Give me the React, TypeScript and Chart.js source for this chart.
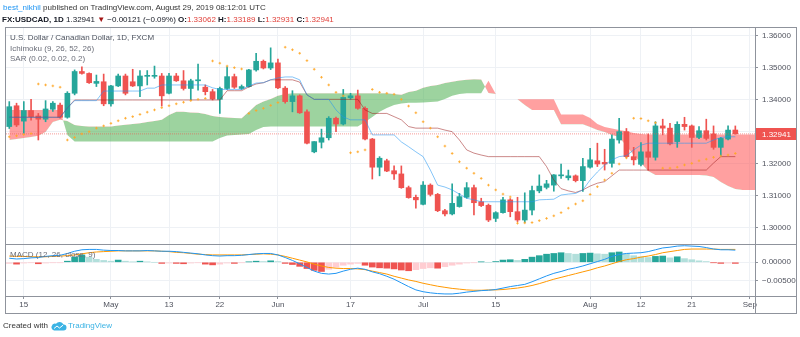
import React, { useEffect, useRef } from "react";
import { Chart, registerables } from "chart.js";

Chart.register(...registerables);

// ---------- Data (daily bars, index 0 = 2019-04-11 ... 100 = 2019-08-29) ----------
const opens = [
  1.3317, 1.3382, 1.3334, 1.3367, 1.335, 1.334, 1.3371, 1.3384, 1.3346, 1.3421,
  1.3489, 1.3483, 1.3452, 1.3457, 1.3388, 1.3444, 1.3475, 1.3457, 1.3444, 1.3474,
  1.3474, 1.3475, 1.3421, 1.3475, 1.346, 1.3436, 1.346, 1.344, 1.3426, 1.3402,
  1.3436, 1.3473, 1.3436, 1.3442, 1.3494, 1.3521, 1.35, 1.3516, 1.3437, 1.3395,
  1.3413, 1.3363, 1.3238, 1.3268, 1.3282, 1.3343, 1.3325, 1.3407, 1.3413, 1.3374,
  1.3278, 1.319, 1.321, 1.3179, 1.3169, 1.3126, 1.3096, 1.3074, 1.3134, 1.3105,
  1.3054, 1.3044, 1.3067, 1.3096, 1.3126, 1.3082, 1.3071, 1.303, 1.3048, 1.3088,
  1.3051, 1.3025, 1.3056, 1.3116, 1.3127, 1.3134, 1.3163, 1.3157, 1.3163, 1.3148,
  1.319, 1.321, 1.3205, 1.3202, 1.3275, 1.3301, 1.3223, 1.3199, 1.3238, 1.3221,
  1.3319, 1.3312, 1.327, 1.3324, 1.3319, 1.3283, 1.3304, 1.3294, 1.3252, 1.3278,
  1.33062,
];
const highs = [
  1.3395, 1.339, 1.3395, 1.3402, 1.3358, 1.3398, 1.3395, 1.339, 1.3426, 1.3494,
  1.3504, 1.3485, 1.3478, 1.3481, 1.3446, 1.3481, 1.3481, 1.3496, 1.3492, 1.3492,
  1.3506, 1.3483, 1.3483, 1.3483, 1.3492, 1.3465, 1.3512, 1.3447, 1.3433, 1.344,
  1.3504, 1.3481, 1.3447, 1.3496, 1.3546, 1.3525, 1.3563, 1.3528, 1.3442, 1.3429,
  1.3416, 1.3369, 1.327, 1.3309, 1.3348, 1.3347, 1.3433, 1.3421, 1.3431, 1.3379,
  1.328, 1.3223, 1.3215, 1.3194, 1.3194, 1.3131, 1.3103, 1.3145, 1.3138, 1.3108,
  1.3058, 1.3138, 1.3108, 1.3142, 1.3134, 1.3093, 1.3075, 1.3051, 1.3096, 1.3092,
  1.3096, 1.311, 1.3131, 1.3166, 1.3149, 1.3167, 1.32, 1.3181, 1.3166, 1.3218,
  1.3249, 1.3265, 1.3246, 1.3291, 1.3343, 1.3311, 1.3252, 1.3267, 1.3294, 1.3332,
  1.334, 1.3327, 1.3332, 1.3346, 1.3322, 1.3317, 1.334, 1.3319, 1.3283, 1.3319,
  1.33189,
];
const lows = [
  1.3311, 1.3317, 1.3296, 1.3337, 1.3275, 1.3332, 1.3364, 1.3343, 1.3343, 1.3416,
  1.3481, 1.3452, 1.3442, 1.3382, 1.3381, 1.3442, 1.3416, 1.3442, 1.341, 1.3447,
  1.3468, 1.3381, 1.3419, 1.3458, 1.3431, 1.34, 1.3431, 1.3416, 1.34, 1.3358,
  1.3433, 1.3436, 1.3433, 1.344, 1.349, 1.3497, 1.3495, 1.3435, 1.339, 1.3363,
  1.3358, 1.3263, 1.3235, 1.325, 1.3275, 1.3301, 1.3322, 1.3402, 1.3371, 1.3275,
  1.3153, 1.3163, 1.3176, 1.3152, 1.3124, 1.3093, 1.3062, 1.3072, 1.31, 1.3051,
  1.3038, 1.3041, 1.3065, 1.3093, 1.3041, 1.3067, 1.302, 1.302, 1.3046, 1.3035,
  1.302, 1.3017, 1.3041, 1.311, 1.3122, 1.3115, 1.3155, 1.315, 1.3144, 1.3114,
  1.3187, 1.3192, 1.3181, 1.319, 1.3265, 1.322, 1.3197, 1.3194, 1.3181, 1.3212,
  1.3291, 1.326, 1.3252, 1.3306, 1.3252, 1.3279, 1.3275, 1.3246, 1.3225, 1.3275,
  1.32931,
];
const closes = [
  1.3379, 1.3322, 1.3367, 1.3348, 1.334, 1.3372, 1.339, 1.3346, 1.3421, 1.3489,
  1.3483, 1.3454, 1.3458, 1.3388, 1.3444, 1.3475, 1.3421, 1.3444, 1.3475, 1.3476,
  1.3476, 1.3413, 1.3475, 1.346, 1.3436, 1.346, 1.3461, 1.3426, 1.3403, 1.3436,
  1.3473, 1.344, 1.3442, 1.3494, 1.3521, 1.35, 1.3516, 1.3438, 1.3395, 1.3413,
  1.336, 1.3265, 1.327, 1.3282, 1.3343, 1.3325, 1.3408, 1.3413, 1.3374, 1.3278,
  1.319, 1.3218, 1.3178, 1.3169, 1.3126, 1.3095, 1.3088, 1.3134, 1.3105, 1.3054,
  1.3044, 1.3077, 1.3098, 1.3126, 1.3079, 1.307, 1.3025, 1.3048, 1.3088, 1.3051,
  1.3025, 1.3056, 1.3117, 1.3131, 1.3138, 1.3166, 1.3166, 1.3163, 1.3148, 1.3192,
  1.3213, 1.32, 1.32, 1.3278, 1.3301, 1.3223, 1.3213, 1.3238, 1.3221, 1.3319,
  1.3312, 1.3263, 1.3324, 1.3317, 1.3283, 1.3304, 1.328, 1.3252, 1.328, 1.3306,
  1.32941,
];

// Ichimoku leading spans (shifted ahead, index 0..103)
const leadA = [
  1.3275, 1.3278, 1.3281, 1.3284, 1.3288, 1.33, 1.3331, 1.3338, 1.3334, 1.3322,
  1.3319, 1.3317, 1.3317, 1.3317, 1.3317, 1.332, 1.3323, 1.3325, 1.3327, 1.3331,
  1.3334, 1.3338, 1.3353, 1.3363, 1.3363, 1.3361, 1.336, 1.3356, 1.335, 1.3347,
  1.3345, 1.3344, 1.3343, 1.3363, 1.3384, 1.3395, 1.3403, 1.3413, 1.3419, 1.3421,
  1.3421, 1.3421, 1.3421, 1.3421, 1.3421, 1.3421, 1.3421, 1.3421, 1.3421, 1.3421,
  1.3421, 1.3421, 1.3421, 1.3419, 1.3416, 1.3425, 1.3429, 1.3438, 1.3444, 1.3447,
  1.3453, 1.3457, 1.3461, 1.3463, 1.3465, 1.3464, 1.3422, 1.3419, 1.3413, 1.3406,
  1.3402, 1.3384, 1.3369, 1.3369, 1.3369, 1.3369, 1.3324, 1.3324, 1.3324, 1.3324,
  1.3316, 1.3306, 1.33, 1.3291, 1.3284, 1.3256, 1.3228, 1.3203, 1.3178, 1.3166,
  1.3166, 1.3166, 1.3166, 1.3166, 1.3166, 1.3166, 1.3164, 1.3159, 1.3144, 1.3131,
  1.3122, 1.3119, 1.3119, 1.3119,
];
const leadB = [
  1.3369, 1.3369, 1.3369, 1.3369, 1.3369, 1.3369, 1.3369, 1.3369, 1.3291, 1.327,
  1.327, 1.327, 1.327, 1.327, 1.327, 1.327, 1.327, 1.327, 1.327, 1.327,
  1.327, 1.327, 1.327, 1.327, 1.327, 1.327, 1.327, 1.327, 1.327, 1.3281,
  1.3289, 1.3291, 1.3292, 1.3294, 1.3306, 1.3316, 1.3317, 1.3317, 1.3317, 1.3317,
  1.3317, 1.3317, 1.3317, 1.3317, 1.3317, 1.3317, 1.3317, 1.3317, 1.3317, 1.3331,
  1.3347, 1.3363, 1.3375, 1.3384, 1.3389, 1.3391, 1.3391, 1.3392, 1.3394, 1.3395,
  1.3403, 1.3413, 1.3419, 1.3421, 1.3421, 1.3421, 1.346, 1.3419, 1.3413, 1.3406,
  1.3402, 1.3402, 1.3402, 1.3402, 1.3402, 1.3402, 1.3355, 1.3355, 1.3355, 1.3355,
  1.3344, 1.3325, 1.3316, 1.3311, 1.3306, 1.3302, 1.3297, 1.3294, 1.3292, 1.3292,
  1.3292, 1.3292, 1.3292, 1.3292, 1.3292, 1.3292, 1.3292, 1.3292, 1.3292, 1.3292,
  1.3292, 1.3292, 1.3292, 1.3292,
];
const conversion = [
  1.3346, 1.3346, 1.3346, 1.3346, 1.3346, 1.3346, 1.3346, 1.3346, 1.3375, 1.3398,
  1.3398, 1.3398, 1.3398, 1.3428, 1.3428, 1.3428, 1.3428, 1.3428, 1.3428, 1.3437,
  1.3437, 1.3447, 1.3447, 1.3447, 1.3447, 1.3447, 1.3447, 1.3447, 1.3438, 1.3433,
  1.3433, 1.3433, 1.3433, 1.3444, 1.3453, 1.3454, 1.3463, 1.3469, 1.3472, 1.3472,
  1.3463, 1.3416, 1.3402, 1.3402, 1.3402, 1.3369, 1.3347, 1.3338, 1.3338, 1.3338,
  1.3291, 1.3291, 1.3291, 1.3291, 1.3269, 1.3254, 1.3238, 1.3223, 1.3181, 1.3134,
  1.3128, 1.3119, 1.3106, 1.3093, 1.3088, 1.3082, 1.3082, 1.3082, 1.3082, 1.3082,
  1.3082, 1.3082, 1.3082, 1.3088, 1.3089, 1.309, 1.3103, 1.3106, 1.3108, 1.3119,
  1.315, 1.3175, 1.3197, 1.3213, 1.3223, 1.3226, 1.3244, 1.3259, 1.3265, 1.3265,
  1.3265, 1.3265, 1.3265, 1.3265, 1.3265, 1.3265, 1.3265, 1.3275, 1.3283, 1.3285,
  1.3285,
];
const baseLine = [
  1.3346, 1.3346, 1.3346, 1.3346, 1.3346, 1.3346, 1.3346, 1.3346, 1.3375, 1.34,
  1.34, 1.34, 1.34, 1.34, 1.34, 1.34, 1.34, 1.34, 1.34, 1.34,
  1.34, 1.34, 1.34, 1.34, 1.34, 1.34, 1.34, 1.34, 1.34, 1.34,
  1.3429, 1.3429, 1.3429, 1.3441, 1.345, 1.3454, 1.3463, 1.3463, 1.3463, 1.3463,
  1.3456, 1.3416, 1.3402, 1.3402, 1.3402, 1.3402, 1.3402, 1.3402, 1.3402, 1.3369,
  1.3358, 1.3358, 1.3358, 1.3348, 1.3338, 1.3317, 1.3312, 1.3312, 1.3312, 1.3312,
  1.3306, 1.3301, 1.3275, 1.3244, 1.3234, 1.3228, 1.3223, 1.3223, 1.3223, 1.3223,
  1.3223, 1.3223, 1.3223, 1.3223, 1.3192, 1.315, 1.3123, 1.3116, 1.3111, 1.3119,
  1.3131, 1.314, 1.3145, 1.3163, 1.3181, 1.3181, 1.3181, 1.3181, 1.3181, 1.3181,
  1.3181, 1.3181, 1.3181, 1.3181, 1.3181, 1.3181, 1.3181, 1.3203, 1.3223, 1.3223,
  1.3223,
];
const sar = [
  1.3285, 1.3288, 1.3292, 1.3295, 1.345, 1.3447, 1.3444, 1.344, 1.3275, 1.3283,
  1.3294, 1.3301, 1.3312, 1.3319, 1.3327, 1.3335, 1.3343, 1.3348, 1.3355, 1.3362,
  1.3369, 1.3376, 1.3382, 1.3388, 1.3393, 1.3398, 1.3402, 1.3405, 1.3522, 1.3515,
  1.3506, 1.3501, 1.3497, 1.3358, 1.3367, 1.3374, 1.3383, 1.3392, 1.3565, 1.3557,
  1.3546, 1.3523, 1.3496, 1.3471, 1.3447, 1.3424, 1.3413, 1.3235, 1.3238, 1.3244,
  1.3433, 1.3424, 1.3421, 1.3418, 1.3402, 1.3381, 1.336, 1.3332, 1.3312, 1.3285,
  1.3256, 1.3233, 1.3207, 1.3187, 1.3171, 1.3155, 1.3134, 1.3119, 1.3106, 1.3097,
  1.3015, 1.3016, 1.3017, 1.3023, 1.303, 1.3038, 1.3048, 1.3062, 1.3075, 1.3085,
  1.3105, 1.3129, 1.315, 1.3171, 1.32, 1.3219, 1.3343, 1.3342, 1.3335, 1.3329,
  1.3187, 1.3187, 1.319, 1.3197, 1.3202, 1.321, 1.3215, 1.3221, 1.3225, 1.3228,
  1.3233,
];
const macdValues = [
  0.0011, 0.0009, 0.001, 0.0012, 0.0013, 0.0016, 0.0018, 0.0019, 0.0024, 0.003,
  0.0034, 0.0035, 0.0035, 0.0033, 0.0032, 0.0032, 0.0031, 0.0031, 0.0031, 0.0032,
  0.0031, 0.003, 0.003, 0.0029, 0.0027, 0.0025, 0.0023, 0.002, 0.0018, 0.0017,
  0.0018, 0.0018, 0.0019, 0.0021, 0.0023, 0.0024, 0.0024, 0.002, 0.0013, 0.0005,
  -0.0004, -0.0014, -0.0024, -0.003, -0.0032, -0.003, -0.0024, -0.0019, -0.0016, -0.0019,
  -0.0026, -0.0031, -0.0038, -0.0046, -0.0056, -0.0066, -0.0075, -0.008, -0.0083, -0.0085,
  -0.0086, -0.0086, -0.0084, -0.0081, -0.0079, -0.0077, -0.0076, -0.0074, -0.007, -0.0066,
  -0.0063, -0.006, -0.0053, -0.0045, -0.0037, -0.003, -0.0025, -0.0019, -0.0015, -0.001,
  -0.0004, 0.0002, 0.0008, 0.0016, 0.0021, 0.0024, 0.0025, 0.0026, 0.0029, 0.0034,
  0.0039, 0.0041, 0.0044, 0.0045, 0.0044, 0.0043, 0.004, 0.0036, 0.0034, 0.0034,
  0.0033,
];
const signalValues = [
  0.0017, 0.0016, 0.0016, 0.0015, 0.0015, 0.0015, 0.0016, 0.0017, 0.0018, 0.002,
  0.0023, 0.0026, 0.0028, 0.0029, 0.003, 0.0031, 0.0031, 0.0031, 0.0031, 0.0031,
  0.0031, 0.003, 0.0029, 0.0027, 0.0026, 0.0024, 0.0022, 0.0021, 0.002, 0.002,
  0.002, 0.002, 0.002, 0.0021, 0.0022, 0.0023, 0.0022, 0.002, 0.0016, 0.0011,
  0.0006, 0.0001, -0.0005, -0.001, -0.0014, -0.0016, -0.0017, -0.0017, -0.0018, -0.002,
  -0.0024, -0.0028, -0.0032, -0.0038, -0.0043, -0.0048, -0.0052, -0.0057, -0.0061, -0.0065,
  -0.0068, -0.0071, -0.0073, -0.0075, -0.0076, -0.0076, -0.0075, -0.0075, -0.0074, -0.0072,
  -0.007, -0.0067, -0.0063, -0.0058, -0.0052, -0.0046, -0.0041, -0.0036, -0.0031, -0.0026,
  -0.0021, -0.0015, -0.001, -0.0004, 0.0002, 0.0007, 0.001, 0.0014, 0.0017, 0.0021,
  0.0026, 0.0029, 0.0032, 0.0035, 0.0036, 0.0036, 0.0036, 0.0036, 0.0035, 0.0035,
  0.0035,
];
const histValues = [
  -0.0003, -0.0005, -0.0002, -0.0001, -0.0004, -0.0002, -0.0001, -0.0001, 0.0003, 0.0014,
  0.002, 0.0014, 0.0008, 0.0005, 0.0003, 0.0006, 0.0003, 0.0001, 0.0003, 0.0001,
  0.0, -0.0003, -0.0002, -0.0003, -0.0004, -0.0002, -0.0001, -0.0005, -0.0007, -0.0005,
  -0.0002, -0.0003, -0.0001, 0.0001, 0.0003, 0.0002, 0.0004, 0.0002, -0.0003, -0.0006,
  -0.0011, -0.0017, -0.0022, -0.0025, -0.0019, -0.0013, -0.0008, -0.0005, -0.0003, -0.0008,
  -0.0013, -0.0015, -0.0016, -0.0018, -0.0021, -0.0023, -0.002, -0.0017, -0.0015, -0.0016,
  -0.0012, -0.0008, -0.0005, -0.0002, -0.0001, 0.0001, 0.0, 0.0002, 0.0006, 0.0007,
  0.0005, 0.0008, 0.0014, 0.0018, 0.0022, 0.0024, 0.0026, 0.0024, 0.0022, 0.0024,
  0.0025, 0.0023, 0.0022, 0.0026, 0.0028, 0.0023, 0.0018, 0.0015, 0.0013, 0.0016,
  0.0017, 0.0012, 0.0015, 0.001, 0.0007, 0.0004, 0.0002, -0.0001, -0.0003, -0.0002,
  -0.0003,
];

const timeTickIdx = [2, 14, 22, 29, 37, 47, 57, 67, 80, 87, 94, 102];
const timeTickLabels = ["15", "May", "13", "22", "Jun", "17", "Jul", "15", "Aug", "12", "21", "Sep"];
const priceTicks = [1.3, 1.31, 1.32, 1.33, 1.34, 1.35, 1.36];
const macdTicks = [0, -0.005];
const lastPrice = 1.32941;

// ---------- Styles ----------
const FONT = '"Liberation Sans", Arial, sans-serif';
const UP = "#26a69a";
const DOWN = "#ef5350";
const GRID = "#eef1f5";
const AXIS = "#8f939c";
const TXT = "#50535e";

export default function App() {
  const canvasRef = useRef<HTMLCanvasElement | null>(null);

  useEffect(() => {
    const canvas = canvasRef.current;
    if (!canvas) return;
    const pts = (arr: number[]) => arr.map((v, i) => ({ x: i, y: v }));
    const candleColors = closes.map((c, i) => (c >= opens[i] ? UP : DOWN));
    const histColors = histValues.map((h, i) => {
      const p = i > 0 ? histValues[i - 1] : h;
      if (h >= 0) return h > p ? "#26a69a" : "#b2dfdb";
      return h < p ? "#ef5350" : "#ffcdd2";
    });

    const framePlugin = {
      id: "tvFrame",
      afterDraw(chart: any) {
        const { ctx, chartArea, scales } = chart;
        const L = chartArea.left;
        const T = chartArea.top;
        const R = chart.width - 3;
        const B = chartArea.bottom + 18;
        ctx.save();
        // price label on axis
        const py = Math.round(scales.y.getPixelForValue(lastPrice));
        ctx.fillStyle = "#ef5350";
        ctx.fillRect(chartArea.right + 1, py - 6, R - chartArea.right - 1, 12);
        ctx.fillStyle = "#ffffff";
        ctx.font = `8px ${FONT}`;
        ctx.textBaseline = "middle";
        ctx.textAlign = "left";
        ctx.fillText(lastPrice.toFixed(5), chartArea.right + 7, py + 0.5);
        // frame lines
        ctx.strokeStyle = AXIS;
        ctx.lineWidth = 1;
        ctx.strokeRect(L + 0.5, T + 0.5, R - L - 1, B - T - 1);
        const sep = Math.round(scales.y2.top) + 0.5;
        const bot = Math.round(chartArea.bottom) + 0.5;
        const rx = Math.round(chartArea.right) + 0.5;
        ctx.beginPath();
        ctx.moveTo(L, sep);
        ctx.lineTo(R, sep);
        ctx.moveTo(L, bot);
        ctx.lineTo(R, bot);
        ctx.moveTo(rx, T);
        ctx.lineTo(rx, B);
        ctx.stroke();
        ctx.restore();
      },
    };

    const tickFont = { family: FONT, size: 8 };

    const chart = new Chart(canvas, {
      type: "line",
      data: {
        datasets: [
          {
            type: "line",
            label: "Lead 1",
            data: pts(leadA),
            yAxisID: "y",
            borderWidth: 0,
            borderColor: "rgba(0,0,0,0)",
            pointRadius: 0,
            fill: false,
            order: 20,
          },
          {
            type: "line",
            label: "Lead 2",
            data: pts(leadB),
            yAxisID: "y",
            borderWidth: 0,
            borderColor: "rgba(0,0,0,0)",
            pointRadius: 0,
            fill: { target: 0, above: "rgba(255,82,82,0.55)", below: "rgba(76,175,80,0.55)" },
            order: 19,
          },
          {
            type: "bar",
            label: "Wicks",
            data: lows.map((l, i) => ({ x: i, y: [l, highs[i]] })),
            yAxisID: "y",
            backgroundColor: candleColors,
            barThickness: 1,
            minBarLength: 1,
            grouped: false,
            order: 8,
          },
          {
            type: "bar",
            label: "Bodies",
            data: opens.map((o, i) => ({ x: i, y: [o, closes[i]] })),
            yAxisID: "y",
            backgroundColor: candleColors,
            barThickness: 5,
            minBarLength: 1,
            grouped: false,
            order: 7,
          },
          {
            type: "line",
            label: "Base Line",
            data: pts(baseLine),
            yAxisID: "y",
            borderColor: "rgba(153,21,21,0.5)",
            borderWidth: 1,
            pointRadius: 0,
            fill: false,
            order: 4,
          },
          {
            type: "line",
            label: "Conversion Line",
            data: pts(conversion),
            yAxisID: "y",
            borderColor: "rgba(33,150,243,0.55)",
            borderWidth: 1,
            pointRadius: 0,
            fill: false,
            order: 3,
          },
          {
            type: "line",
            label: "Price line",
            data: [
              { x: -1, y: lastPrice },
              { x: 104, y: lastPrice },
            ],
            yAxisID: "y",
            borderColor: "rgba(239,83,80,0.6)",
            borderWidth: 1,
            borderDash: [1, 1],
            pointRadius: 0,
            fill: false,
            order: 2,
          },
          {
            type: "line",
            label: "SAR",
            data: pts(sar),
            yAxisID: "y",
            showLine: false,
            pointStyle: "cross",
            pointRadius: 1.3,
            pointBorderWidth: 1,
            pointBorderColor: "rgba(255,167,38,0.85)",
            pointBackgroundColor: "rgba(255,167,38,0.85)",
            borderColor: "rgba(255,167,38,0.85)",
            order: 1,
          },
          {
            type: "bar",
            label: "Histogram",
            data: pts(histValues),
            yAxisID: "y2",
            backgroundColor: histColors,
            barThickness: 6,
            grouped: false,
            order: 14,
          },
          {
            type: "line",
            label: "MACD",
            data: pts(macdValues),
            yAxisID: "y2",
            borderColor: "#2196f3",
            borderWidth: 1,
            pointRadius: 0,
            fill: false,
            order: 12,
          },
          {
            type: "line",
            label: "Signal",
            data: pts(signalValues),
            yAxisID: "y2",
            borderColor: "#ff9800",
            borderWidth: 1,
            pointRadius: 0,
            fill: false,
            order: 13,
          },
        ] as any,
      },
      options: {
        responsive: false,
        animation: false,
        devicePixelRatio: 1,
        events: [],
        layout: { padding: { left: 4, top: 27, right: 3, bottom: 23 } },
        elements: { line: { tension: 0 } },
        plugins: {
          legend: { display: false },
          tooltip: { enabled: false },
          title: { display: false },
        },
        scales: {
          x: {
            type: "linear",
            min: -0.59,
            max: 102.71,
            offset: false,
            afterBuildTicks: (s: any) => {
              s.ticks = timeTickIdx.map((v) => ({ value: v }));
            },
            afterFit: (s: any) => {
              s.height = 18;
            },
            ticks: {
              autoSkip: false,
              maxRotation: 0,
              minRotation: 0,
              padding: 1,
              color: TXT,
              font: tickFont,
              callback: (v: any) => {
                const k = timeTickIdx.indexOf(Number(v));
                return k >= 0 ? timeTickLabels[k] : "";
              },
            },
            grid: { color: GRID, offset: false, drawTicks: true, tickLength: 3, tickColor: AXIS },
            border: { display: false },
          },
          y: {
            type: "linear",
            position: "right",
            stack: "panes",
            stackWeight: 217,
            min: 1.295,
            max: 1.36281,
            beginAtZero: false,
            afterBuildTicks: (s: any) => {
              s.ticks = priceTicks.map((v) => ({ value: v }));
            },
            afterFit: (s: any) => {
              s.width = 42;
            },
            ticks: {
              padding: 4,
              color: TXT,
              font: tickFont,
              callback: (v: any) => Number(v).toFixed(5),
            },
            grid: { color: GRID, drawTicks: true, tickLength: 3, tickColor: AXIS },
            border: { display: false },
          },
          y2: {
            type: "linear",
            position: "right",
            stack: "panes",
            stackWeight: 52,
            min: -0.00916,
            max: 0.00497,
            beginAtZero: false,
            afterBuildTicks: (s: any) => {
              s.ticks = macdTicks.map((v) => ({ value: v }));
            },
            afterFit: (s: any) => {
              s.width = 42;
            },
            ticks: {
              padding: 4,
              color: TXT,
              font: tickFont,
              callback: (v: any) => {
                const n = Number(v);
                return (n < 0 ? "\u2212" : "") + Math.abs(n).toFixed(5);
              },
            },
            grid: { color: GRID, drawTicks: true, tickLength: 3, tickColor: AXIS },
            border: { display: false },
          },
        },
      } as any,
      plugins: [framePlugin],
    });
    return () => chart.destroy();
  }, []);

  const abs = (left: number, top: number, extra: React.CSSProperties = {}): React.CSSProperties => ({
    position: "absolute",
    left,
    top,
    whiteSpace: "nowrap",
    lineHeight: "10px",
    fontSize: 8,
    ...extra,
  });
  const red = { color: "#e0413b" };

  return (
    <div
      style={{
        position: "absolute",
        left: 0,
        top: 0,
        width: 800,
        height: 337,
        background: "#ffffff",
        overflow: "hidden",
        fontFamily: FONT,
        color: "#333",
      }}
    >
      <canvas ref={canvasRef} width={800} height={337} style={{ position: "absolute", left: 0, top: 0 }} />
      <div style={abs(3, 3)}>
        <span style={{ color: "#2196f3" }}>best_nikhil</span> published on TradingView.com, August 29, 2019 08:12:01 UTC
      </div>
      <div style={abs(2, 15, { color: "#131722" })}>
        <b>FX:USDCAD, 1D</b> 1.32941 <span style={{ color: "#a31515" }}>▼</span> −0.00121 (−0.09%){" "}
        <b>O:</b>
        <span style={red}>1.33062</span> <b>H:</b>
        <span style={red}>1.33189</span> <b>L:</b>
        <span style={red}>1.32931</span> <b>C:</b>
        <span style={red}>1.32941</span>
      </div>
      <div style={abs(10, 33, { color: "#4c525e" })}>U.S. Dollar / Canadian Dollar, 1D, FXCM</div>
      <div style={abs(10, 44, { color: "#6a6d78" })}>Ichimoku (9, 26, 52, 26)</div>
      <div style={abs(10, 54, { color: "#6a6d78" })}>SAR (0.02, 0.02, 0.2)</div>
      <div style={abs(10, 250, { color: "#6a6d78" })}>MACD (12, 26, close, 9)</div>
      <div style={abs(3, 321, { color: "#333", display: "flex", alignItems: "center" })}>
        <span>Created with</span>
        <svg width="16" height="9" viewBox="0 0 16 9" style={{ margin: "0 1px 0 3px" }}>
          <path d="M3 8.5 H12.5 A3 3 0 0 0 12.5 2.5 A4.5 4.5 0 0 0 5 1.8 A3.4 3.4 0 0 0 3 8.5 Z" fill="#3bb3e4" />
          <path d="M3 6.5 L6 4 L8.5 6 L12 3.2" stroke="#ffffff" strokeWidth="1" fill="none" />
        </svg>
        <span style={{ color: "#3bb3e4" }}>TradingView</span>
      </div>
    </div>
  );
}
